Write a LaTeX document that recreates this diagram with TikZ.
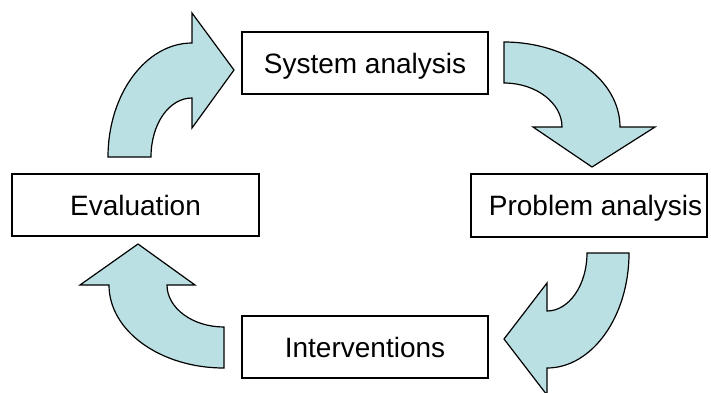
\documentclass[tikz,border=0pt]{standalone}
\usepackage{fontspec}
\setmainfont{Liberation Sans}
\definecolor{arrowfill}{RGB}{187,224,227}
\begin{document}
\begin{tikzpicture}[x=0.5pt,y=-0.5pt,
  box/.style={draw=black, line width=0.65pt, fill=white, inner sep=0pt,
    minimum width=123pt, minimum height=31pt, text height=10pt, text depth=0pt,
    font=\fontsize{14}{16.8}\selectfont},
  curvedarrow/.style={fill=arrowfill, draw=black, line width=0.6pt, line join=miter}]
\useasboundingbox (0,0) rectangle (711,392);
% curved arrows
\path[curvedarrow] (108,157) .. controls (108,94) and (146,43) .. (192,43)
  -- (192,13) -- (234,70) -- (192,128) -- (192,98)
  .. controls (169,98) and (151,124) .. (151,157) -- cycle;
\path[curvedarrow] (504,42) .. controls (568,42) and (620,80) .. (620,127)
  -- (655,127) -- (592,167) -- (533,127) -- (562,127)
  .. controls (562,103) and (536,83) .. (504,83) -- cycle;
\path[curvedarrow] (629,253) .. controls (629,316.5) and (592,368) .. (547,368)
  -- (547,395) -- (504,339) -- (547,283) -- (547,311)
  .. controls (569,311) and (587,285) .. (587,253) -- cycle;
\path[curvedarrow] (224,368) .. controls (160.5,368) and (109,331) .. (109,285)
  -- (80,285) -- (138,244) -- (195,285) -- (167,285)
  .. controls (167,308) and (192.5,327) .. (224,327) -- cycle;
% boxes
\node[box] (sys) at (365,63) {System analysis};
\node[box, minimum width=118pt, minimum height=31.5pt] (prob) at (589,205.5) {\kern6.5pt Problem analysis};
\node[box, minimum width=123.5pt] (eval) at (135.5,205) {Evaluation};
\node[box] (int) at (365,347) {Interventions};
\end{tikzpicture}
\end{document}
